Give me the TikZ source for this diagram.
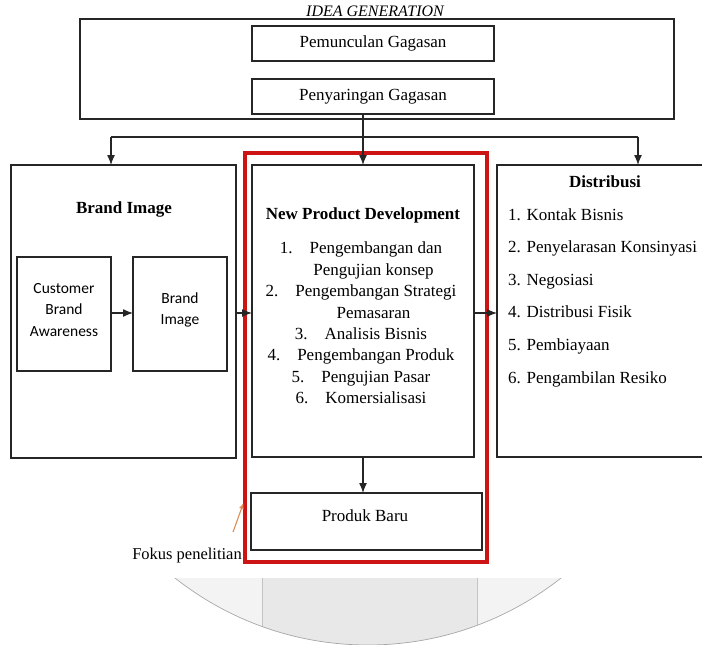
\documentclass[tikz,border=0pt]{standalone}
\usepackage{fontspec}
\setmainfont{Liberation Serif}
\newfontfamily\calibrifont{Carlito}
\usetikzlibrary{arrows.meta,calc}
\definecolor{lineclr}{HTML}{262626}
\definecolor{redclr}{HTML}{CC1414}
\definecolor{orangeclr}{HTML}{DE8C58}
\definecolor{greyA}{HTML}{F3F3F3}
\definecolor{greyB}{HTML}{E8E8E8}
\definecolor{greyC}{HTML}{C4C4C4}
\definecolor{greyD}{HTML}{A8A8A8}
\tikzset{
  boxline/.style={draw=lineclr, line width=1.3pt, inner sep=0pt, outer sep=0pt},
  conn/.style={draw=lineclr, line width=1.3pt},
  arr/.style={conn, -{Latex[length=10pt,width=8pt]}},
  serif/.style={font=\fontsize{17}{21.4}\selectfont, inner sep=0pt},
  serifbold/.style={font=\fontsize{17}{21.4}\selectfont\bfseries, inner sep=0pt},
  sanstext/.style={font=\calibrifont\fontsize{15.5}{21.5}\selectfont, inner sep=0pt, align=center},
}
\begin{document}
\begin{tikzpicture}[x=1pt,y=-1pt]
\useasboundingbox (0,0) rectangle (702,645);
\fill[white] (0,0) rectangle (702,645);

% grey artifact at the bottom
\begin{scope}
  \clip (0,578) rectangle (702,646);
  \fill[greyA] (368,333.5) circle (311.5pt);
  \begin{scope}
    \clip (368,333.5) circle (311.5pt);
    \fill[greyB] (262,578) rectangle (477,646);
    \draw[greyC, line width=0.8pt] (262,578) -- (262,646) (477,578) -- (477,646);
  \end{scope}
  \draw[greyD, line width=0.7pt] (368,333.5) circle (311.5pt);
\end{scope}

% Idea generation
\node[font=\fontsize{16}{18}\selectfont\itshape, inner sep=0pt] (ideatitle) at (375,11) {IDEA GENERATION};
\node[boxline, minimum width=594pt, minimum height=100pt] (idea) at (377,69) {};
\node[boxline, serif, minimum width=242pt, minimum height=35pt] (pem) at (373,43.5) {Pemunculan Gagasan};
\node[boxline, serif, minimum width=242pt, minimum height=35pt] (pen) at (373,96.5) {Penyaringan Gagasan};

% three columns
\node[boxline, minimum width=225pt, minimum height=293pt] (brand) at (123.5,311.5) {};
\node[boxline, minimum width=222pt, minimum height=292pt] (npd) at (363,311) {};
\node[boxline, minimum width=215pt, minimum height=292pt] (dist) at (604.5,311) {};

% brand image column
\node[serifbold] (brandtitle) at (124,209) {Brand Image};
\node[boxline, minimum width=94pt, minimum height=114pt] (cba) at (64,314) {};
\node[boxline, minimum width=94pt, minimum height=114pt] (bi) at (180,314) {};
\node[sanstext] (cbatext) at (64,310) {Customer\\Brand\\Awareness};
\node[sanstext] (bitext) at (180,310) {Brand\\Image};

% NPD column
\node[serifbold] (npdtitle) at (363,215) {New Product Development};
\node[serif, align=center] (npdlist) at (361,323) {%
1.\hspace{17pt}Pengembangan dan\\
\hspace*{25pt}Pengujian konsep\\
2.\hspace{17pt}Pengembangan Strategi\\
\hspace*{25pt}Pemasaran\\
3.\hspace{17pt}Analisis Bisnis\\
4.\hspace{17pt}Pengembangan Produk\\
5.\hspace{17pt}Pengujian Pasar\\
6.\hspace{17pt}Komersialisasi};

\node[boxline, minimum width=231pt, minimum height=57pt] (produk) at (366.5,521.5) {};
\node[serif] (produktext) at (365,516) {Produk Baru};

% Distribusi column
\node[serifbold] (disttitle) at (605,182) {Distribusi};
\node[font=\fontsize{17}{32.6}\selectfont, inner sep=0pt, align=left, anchor=west] (distlist) at (508,297.5) {%
1. Kontak Bisnis\\
2. Penyelarasan Konsinyasi\\
3. Negosiasi\\
4. Distribusi Fisik\\
5. Pembiayaan\\
6. Pengambilan Resiko};

% focus frame
\node[draw=redclr, line width=3.4pt, minimum width=242pt, minimum height=409pt, inner sep=0pt] (focus) at (366,357.5) {};
\node[font=\fontsize{16.5}{18}\selectfont, inner sep=0pt, anchor=east] (fokus) at (242,556) {Fokus penelitian};
\coordinate (fstart) at (233,532);
\coordinate (fend) at (243.5,503);
\draw[orangeclr, line width=1.1pt, -{Latex[length=6pt,width=5pt]}] (fstart) -- (fend);

% connectors
\coordinate (bl) at (111,137);
\coordinate (br) at (638,137);
\draw[conn] (bl) -- (br);
\draw[arr] (pen.south -| npd.north) -- (npd.north);
\draw[arr] (bl) -- (bl |- brand.north);
\draw[arr] (br) -- (br |- dist.north);
\draw[arr] (cba.east |- 0,313) -- (bi.west |- 0,313);
\draw[arr] (brand.east |- 0,313) -- (npd.west |- 0,313);
\draw[arr] (npd.east |- 0,313) -- (dist.west |- 0,313);
\draw[arr] (npd.south) -- (npd.south |- produk.north);
\end{tikzpicture}
\end{document}
